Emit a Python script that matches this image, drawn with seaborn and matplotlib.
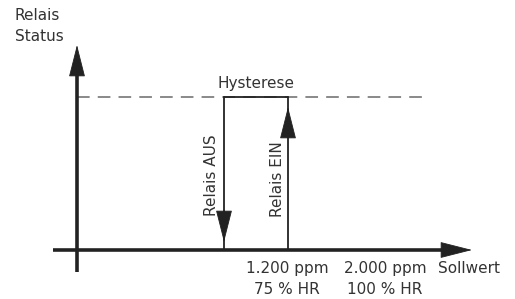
import numpy as np
import pandas as pd
import seaborn as sns
import matplotlib.pyplot as plt

# diagram coordinates (pixel-like units, y upward)
axis_x = [53, 472]          # x axis extent
axis_y = [27, 254]          # y axis extent
origin = (77, 49)
status_on = 202             # relay "on" level
dash_end = 428
switch_off = 224            # Relais AUS
switch_on = 288             # Relais EIN
tick_labels = ["1.200 ppm\n75 % HR", "2.000 ppm\n100 % HR"]
tick_pos = [287, 385]

sns.set_theme(style="white")
plt.rcParams["font.family"] = ["DejaVu Sans"]

fig = plt.figure(figsize=(5.15, 2.99), dpi=100)
ax = fig.add_axes([0, 0, 1, 1])
ax.set_xlim(0, 515)
ax.set_ylim(0, 299)
ax.axis("off")

txt = "#333333"
dark = "#222222"

# dashed "on" level
dash = pd.DataFrame({"x": [origin[0], dash_end], "y": [status_on, status_on]})
sns.lineplot(data=dash, x="x", y="y", ax=ax, color="#808080", lw=1.3,
             dashes=False, linestyle=(0, (7, 4.5)))

# hysteresis top segment
top = pd.DataFrame({"x": [switch_off, switch_on], "y": [status_on, status_on]})
sns.lineplot(data=top, x="x", y="y", ax=ax, color=dark, lw=1.3)

# vertical switching lines
for xs in [switch_off, switch_on]:
    ax.plot([xs, xs], [origin[1], status_on], color=dark, lw=1.3)

head = dict(arrowstyle="-|>,head_length=1.5,head_width=0.38", mutation_scale=14,
            color=dark, shrinkA=0, shrinkB=0, lw=0.6)
ax.annotate("", xy=(switch_off, origin[1] + 8), xytext=(switch_off, origin[1] + 40),
            arrowprops=head)
ax.annotate("", xy=(switch_on, status_on - 10), xytext=(switch_on, status_on - 40),
            arrowprops=head)

# axes with arrows
ax.plot([axis_x[0], axis_x[1] - 10], [origin[1], origin[1]], color=dark, lw=2.6,
        solid_capstyle="butt")
ax.plot([origin[0], origin[0]], [axis_y[0], axis_y[1] - 10], color=dark, lw=2.6,
        solid_capstyle="butt")
ax.annotate("", xy=(axis_x[1], origin[1]), xytext=(axis_x[1] - 30, origin[1]),
            arrowprops=head)
ax.annotate("", xy=(origin[0], axis_y[1]), xytext=(origin[0], axis_y[1] - 30),
            arrowprops=head)

fs = 11
ax.text(15, 291, "Relais\nStatus", ha="left", va="top", fontsize=fs, color=txt,
        linespacing=1.5)
ax.text((switch_off + switch_on) / 2, 208, "Hysterese", ha="center", va="bottom",
        fontsize=fs, color=txt)
ax.text(switch_off - 12, 124, "Relais AUS", rotation=90, ha="center", va="center",
        fontsize=fs, color=txt)
ax.text(switch_on - 11, 120, "Relais EIN", rotation=90, ha="center", va="center",
        fontsize=fs, color=txt)
for lab, xp in zip(tick_labels, tick_pos):
    ax.text(xp, 38, lab, ha="center", va="top", fontsize=fs, color=txt,
            linespacing=1.5)
ax.text(438, 38, "Sollwert", ha="left", va="top", fontsize=fs, color=txt)

fig.savefig("out.png", dpi=100)
